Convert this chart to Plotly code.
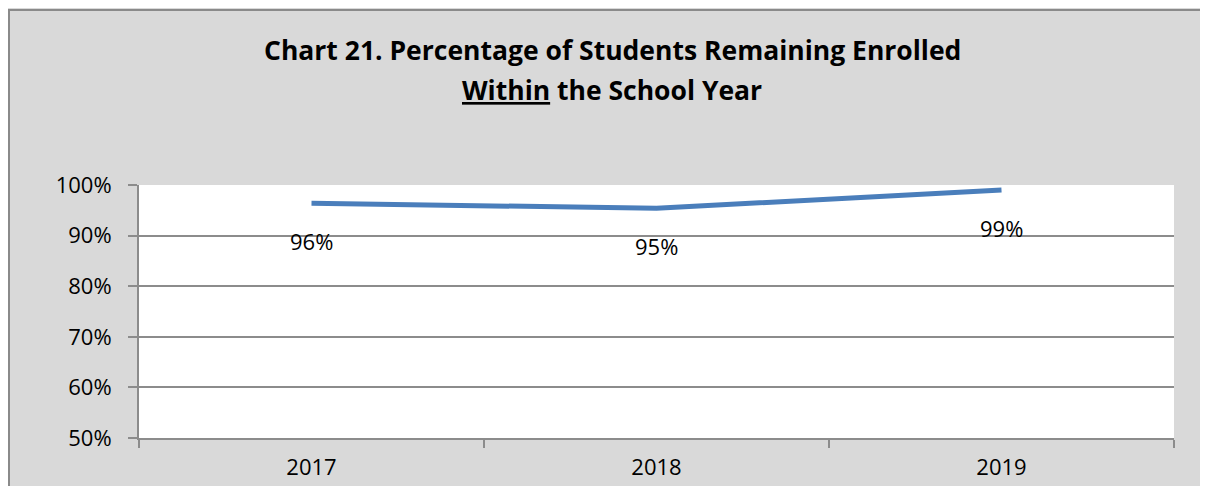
import plotly.graph_objects as go

years = ["2017", "2018", "2019"]
values = [0.964, 0.954, 0.990]
labels = ["96%", "95%", "99%"]
y_ticks = [0.5, 0.6, 0.7, 0.8, 0.9, 1.0]
y_tick_text = ["50%", "60%", "70%", "80%", "90%", "100%"]

title_line1 = "<b>Chart 21. Percentage of Students Remaining Enrolled</b>"
title_line2 = "<b><u>Within</u> the School Year</b>"

# page is rendered with an 8px body margin, so figure coords = page coords - 8
OFF = 8
W, H = 1192, 478
L, T = 139 - OFF, 185 - OFF
R = W - (1174 - OFF)
B = H - (438 - OFF)
pw, ph = W - L - R, H - T - B

def px_to_paper_x(px):
    return (px - OFF - L) / pw

def px_to_paper_y(py):
    return (H - B - (py - OFF)) / ph

FONT = "Open Sans"
GRID = "#8c8c8c"

fig = go.Figure()
fig.add_trace(go.Scatter(
    x=years, y=values, mode="lines",
    line=dict(color="#4a7ebb", width=5),
    hoverinfo="skip", showlegend=False,
))

for i, (v, t) in enumerate(zip(values, labels)):
    fig.add_annotation(x=i, y=v, xref="x", yref="y", text=t, showarrow=False, yshift=-38,
                       font=dict(family=FONT, size=22, color="#000000"))

fig.add_annotation(xref="paper", yref="paper", x=px_to_paper_x(612), y=px_to_paper_y(50),
                   text=title_line1, showarrow=False, xanchor="center", yanchor="middle",
                   font=dict(family=FONT, size=26.5, color="#000000"))
fig.add_annotation(xref="paper", yref="paper", x=px_to_paper_x(612), y=px_to_paper_y(90),
                   text=title_line2, showarrow=False, xanchor="center", yanchor="middle",
                   font=dict(family=FONT, size=26.5, color="#000000"))

# outer chart border (left/top visible)
fig.add_shape(type="rect", xref="paper", yref="paper", layer="below",
              x0=px_to_paper_x(OFF + 1), x1=px_to_paper_x(W + 60),
              y0=px_to_paper_y(H + 60), y1=px_to_paper_y(10),
              line=dict(color="#8a8a8a", width=2), fillcolor="rgba(0,0,0,0)")

fig.update_layout(
    width=W, height=H,
    margin=dict(l=L, r=R, t=T, b=B, autoexpand=False),
    paper_bgcolor="#d9d9d9", plot_bgcolor="#ffffff",
    font=dict(family=FONT, size=22, color="#000000"),
)
fig.update_xaxes(
    type="category", range=[-0.5, 2.5], tickson="boundaries",
    ticks="outside", ticklen=8, tickwidth=2, tickcolor=GRID,
    showline=True, linecolor=GRID, linewidth=2,
    showgrid=False, zeroline=False, ticklabelstandoff=9, automargin=False,
    tickfont=dict(family=FONT, size=22, color="#000000"),
)
fig.update_yaxes(
    range=[0.5, 1.0], tickvals=y_ticks, ticktext=y_tick_text,
    ticks="outside", ticklen=9, tickwidth=2, tickcolor=GRID,
    showline=True, linecolor=GRID, linewidth=2,
    showgrid=True, gridcolor=GRID, gridwidth=2, zeroline=False,
    ticklabelstandoff=12, automargin=False,
    tickfont=dict(family=FONT, size=22, color="#000000"),
)

fig.write_html("out.html")
